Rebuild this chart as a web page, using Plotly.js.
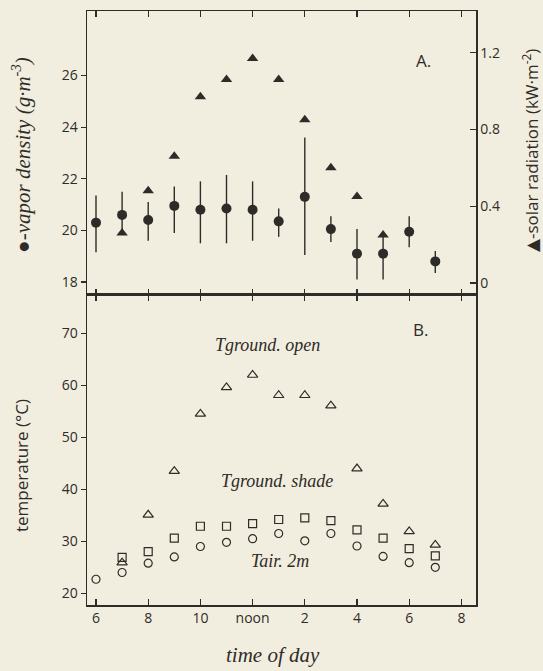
<!DOCTYPE html>
<html>
<head>
<meta charset="utf-8">
<script src="https://cdn.plot.ly/plotly-3.0.1.min.js"></script>
<style>
  html, body { margin: 0; padding: 0; background: #f2eedf; }
  #chart { width: 543px; height: 671px; }
</style>
</head>
<body>
<div id="chart"></div>
<script>
// ---- Data ----
// Panel A: vapor density (g·m-3), mean with range, and solar radiation (kW·m-2)
const hoursA = [6, 7, 8, 9, 10, 11, 12, 13, 14, 15, 16, 17, 18, 19];
const vaporMean = [20.3, 20.6, 20.4, 20.95, 20.8, 20.85, 20.8, 20.35, 21.3, 20.05, 19.1, 19.1, 19.95, 18.8];
const vaporHigh = [21.35, 21.5, 21.1, 21.7, 21.9, 22.15, 21.9, 20.85, 23.6, 20.55, 20.05, 19.85, 20.55, 19.2];
const vaporLow = [19.15, 20.0, 19.6, 19.9, 19.5, 19.5, 19.6, 19.75, 19.05, 19.55, 18.1, 18.1, 19.35, 18.35];

const hoursSolar = [7, 8, 9, 10, 11, 12, 13, 14, 15, 16, 17];
const solarRad = [0.26, 0.48, 0.66, 0.97, 1.06, 1.17, 1.06, 0.85, 0.60, 0.45, 0.25];

// Panel B: temperatures (°C)
const hoursOpen = [7, 8, 9, 10, 11, 12, 13, 14, 15, 16, 17, 18, 19];
const tGroundOpen = [25.9, 35.1, 43.5, 54.5, 59.6, 62.0, 58.1, 58.1, 56.1, 44.0, 37.2, 31.9, 29.3];
const hoursShade = [7, 8, 9, 10, 11, 12, 13, 14, 15, 16, 17, 18, 19];
const tGroundShade = [26.9, 28.0, 30.6, 32.9, 32.9, 33.4, 34.2, 34.5, 34.0, 32.2, 30.6, 28.6, 27.2];
const hoursAir = [6, 7, 8, 9, 10, 11, 12, 13, 14, 15, 16, 17, 18, 19];
const tAir2m = [22.7, 24.0, 25.8, 27.0, 29.0, 29.8, 30.5, 31.5, 30.1, 31.5, 29.1, 27.1, 25.9, 25.0];

// Tick labels
const xTickVals = [6, 8, 10, 12, 14, 16, 18, 20];
const xTickText = ['6', '8', '10', 'noon', '2', '4', '6', '8'];
const solarTickVals = [0, 0.4, 0.8, 1.2];
const solarTickText = ['0', '0.4', '0.8', '1.2'];

// ---- Styling ----
const ink = '#2e2c28';
const paper = '#f2eedf';
const sans = 'Open Sans, DejaVu Sans, sans-serif';
const serif = 'Liberation Serif, DejaVu Serif, serif';
const tickFont = {family: sans, size: 14, color: ink};

const errPlus = vaporHigh.map((v, i) => v - vaporMean[i]);
const errMinus = vaporMean.map((v, i) => v - vaporLow[i]);

const traces = [
  {
    x: hoursA, y: vaporMean, xaxis: 'x2', yaxis: 'y2', type: 'scatter', mode: 'markers',
    marker: {symbol: 'circle', size: 10, color: ink},
    error_y: {type: 'data', symmetric: false, array: errPlus, arrayminus: errMinus,
              width: 0, thickness: 1.4, color: ink},
    showlegend: false
  },
  {
    x: hoursSolar, y: solarRad, xaxis: 'x2', yaxis: 'y3', type: 'scatter', mode: 'markers',
    marker: {symbol: 'triangle-up', size: 10, color: ink},
    showlegend: false
  },
  {
    x: hoursOpen, y: tGroundOpen, xaxis: 'x', yaxis: 'y', type: 'scatter', mode: 'markers',
    marker: {symbol: 'triangle-up-open', size: 9, color: ink, line: {width: 1.2, color: ink}},
    showlegend: false
  },
  {
    x: hoursShade, y: tGroundShade, xaxis: 'x', yaxis: 'y', type: 'scatter', mode: 'markers',
    marker: {symbol: 'square-open', size: 8, color: ink, line: {width: 1.2, color: ink}},
    showlegend: false
  },
  {
    x: hoursAir, y: tAir2m, xaxis: 'x', yaxis: 'y', type: 'scatter', mode: 'markers',
    marker: {symbol: 'circle-open', size: 8, color: ink, line: {width: 1.2, color: ink}},
    showlegend: false
  }
];

const splitY = 0.522;
const xRange = [5.655, 20.56];

const layout = {
  width: 543, height: 671,
  paper_bgcolor: paper, plot_bgcolor: paper,
  margin: {l: 87, r: 67, t: 11, b: 66},
  showlegend: false,
  xaxis: {
    domain: [0, 1], anchor: 'y', range: xRange,
    tickvals: xTickVals, ticktext: xTickText, ticks: 'inside', ticklen: 6, tickwidth: 1.3,
    tickcolor: ink, showline: true, linecolor: ink, linewidth: 1.5, mirror: 'ticks',
    showgrid: false, zeroline: false, tickfont: tickFont
  },
  xaxis2: {
    domain: [0, 1], anchor: 'y2', range: xRange, matches: 'x',
    tickvals: xTickVals, ticks: 'inside', ticklen: 6, tickwidth: 1.3, tickcolor: ink,
    showticklabels: false, showline: true, linecolor: ink, linewidth: 1.5, mirror: 'ticks',
    showgrid: false, zeroline: false
  },
  yaxis: {
    domain: [0, splitY], anchor: 'x', range: [17.75, 77.4],
    tickvals: [20, 30, 40, 50, 60, 70], ticks: 'outside', ticklen: 5, tickwidth: 1.3, tickcolor: ink,
    showline: true, linecolor: ink, linewidth: 1.5, mirror: true,
    showgrid: false, zeroline: false, tickfont: tickFont
  },
  yaxis2: {
    domain: [splitY, 1], anchor: 'x2', range: [17.5, 28.5],
    tickvals: [18, 20, 22, 24, 26], ticks: 'outside', ticklen: 5, tickwidth: 1.3, tickcolor: ink,
    showline: true, linecolor: ink, linewidth: 1.5,
    showgrid: false, zeroline: false, tickfont: tickFont
  },
  yaxis3: {
    overlaying: 'y2', side: 'right', anchor: 'x2', range: [-0.0625, 1.417],
    tickvals: solarTickVals, ticktext: solarTickText, ticks: 'inside', ticklen: 6, tickwidth: 1.3,
    tickcolor: ink, showline: true, linecolor: ink, linewidth: 1.5,
    showgrid: false, zeroline: false, tickfont: tickFont
  },
  annotations: [
    {text: '●-vapor density (g·m<sup>-3</sup>)', xref: 'paper', yref: 'paper', x: -0.168, y: 0.757,
     textangle: -90, showarrow: false, font: {family: serif, size: 21, color: ink, style: 'italic'},
     xanchor: 'center', yanchor: 'middle'},
    {text: 'temperature (°C)', xref: 'paper', yref: 'paper', x: -0.168, y: 0.235,
     textangle: -90, showarrow: false, font: {family: sans, size: 17, color: ink},
     xanchor: 'center', yanchor: 'middle'},
    {text: '▲-solar radiation (kW·m<sup>-2</sup>)', xref: 'paper', yref: 'paper', x: 1.14, y: 0.765,
     textangle: -90, showarrow: false, font: {family: sans, size: 17, color: ink},
     xanchor: 'center', yanchor: 'middle'},
    {text: 'time of day', xref: 'paper', yref: 'paper', x: 0.478, y: -0.085,
     showarrow: false, font: {family: serif, size: 21, color: ink, style: 'italic'},
     xanchor: 'center', yanchor: 'middle'},
    {text: 'A.', xref: 'paper', yref: 'paper', x: 0.889, y: 0.939, showarrow: false,
     font: {family: sans, size: 17, color: ink}},
    {text: 'B.', xref: 'paper', yref: 'paper', x: 0.882, y: 0.463, showarrow: false,
     font: {family: sans, size: 17, color: ink}},
    {text: 'Tground. open', xref: 'paper', yref: 'paper', x: 0.463, y: 0.438, showarrow: false,
     font: {family: serif, size: 18, color: ink, style: 'italic'}},
    {text: 'Tground. shade', xref: 'paper', yref: 'paper', x: 0.488, y: 0.189, showarrow: false,
     font: {family: serif, size: 18, color: ink, style: 'italic'}},
    {text: 'Tair. 2m', xref: 'paper', yref: 'paper', x: 0.496, y: 0.054, showarrow: false,
     font: {family: serif, size: 18, color: ink, style: 'italic'}}
  ]
};

Plotly.newPlot('chart', traces, layout, {displayModeBar: false, staticPlot: true});
</script>
</body>
</html>
